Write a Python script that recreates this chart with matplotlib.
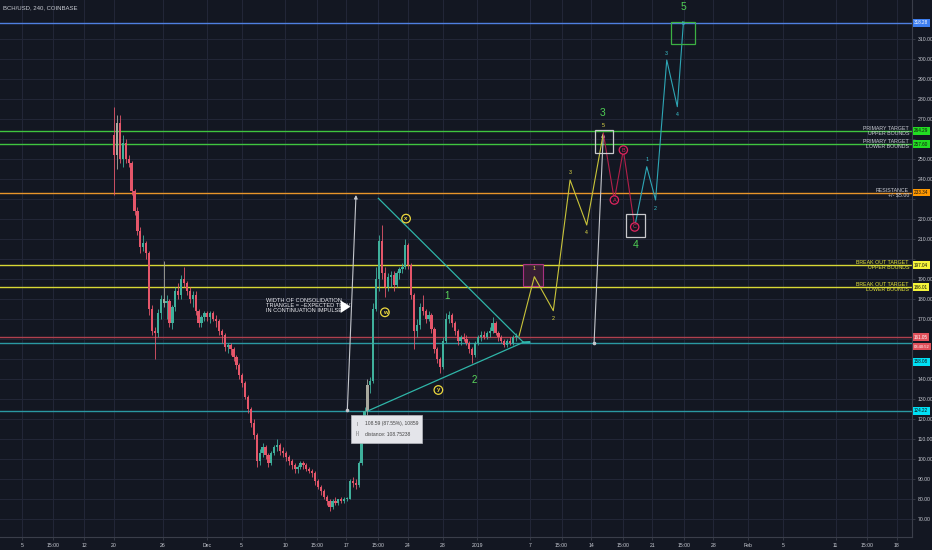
import matplotlib
matplotlib.use("Agg")
import matplotlib.pyplot as plt
from matplotlib.patches import Rectangle
import numpy as np

plt.rcParams['font.family'] = ['Liberation Sans Narrow', 'Liberation Sans', 'DejaVu Sans']

# ---------------- data ----------------
title = "BCH/USD, 240, COINBASE"
start_day = -10.6          # first 8h candle, days relative to Dec 1
bar_step = 1.0 / 3.0       # 8 hours
first_open = 262

closes = [252,268,250,258,250,248,234,224,214,206,208,203,175,164,163,173,180,178,179,168,
          176,184,182,190,188,184,180,182,174,168,171,173,171,173,170,169,164,162,156,157,
          155,151,147,142,138,131,125,118,112,99,103,106,102,98,103,106,107,104,103,101,
          99,97,95,96,98,97,95,94,93,89,86,84,81,79,76,79,78,80,79,80,
          80,89,88,87,98,110,124,137,139,175,190,209,193,186,191,192,187,193,195,196,
          207,197,182,164,167,176,174,170,172,165,155,150,146,159,170,172,168,164,159,161,
          160,158,155,152,158,161,162,161,163,164,168,163,161,159,157,159,158,161,161.05]
highs = [276,272,272,262,260,252,249,235,226,216,212,209,204,177,166,175,182,199,182,180,
         177,186,188,192,196,189,186,184,184,175,172,174,174,174,174,172,170,165,163,158,
         158,156,152,148,143,139,132,126,120,113,105,108,107,103,104,107,110,108,106,104,
         102,100,98,97,99,99,98,96,95,94,90,87,85,82,80,80,81,80,81,81,
         81,90,91,90,99,112,126,140,141,178,196,212,217,196,193,194,194,194,196,198,
         210,208,198,183,170,178,182,175,174,173,166,156,151,161,173,174,173,169,165,162,
         163,162,159,156,159,162,164,164,164,166,171,169,164,162,160,160,161,162,163]
lows = [232,245,248,246,248,246,232,222,212,203,204,200,172,162,150,161,170,176,170,166,
        165,174,180,180,186,182,178,176,172,166,166,169,169,168,169,166,162,158,154,153,
        152,149,145,140,136,130,123,116,110,96,97,101,100,96,97,102,104,102,101,99,
        97,95,93,93,95,95,94,93,91,87,85,82,80,77,74,75,77,77,78,78,
        79,80,86,85,86,97,109,122,133,138,174,184,190,181,184,186,184,186,190,193,
        195,195,180,155,161,165,172,168,169,163,153,148,143,145,158,168,166,162,157,157,
        159,157,153,148,151,157,159,160,160,161,163,162,159,158,156,156,157,157,159]

xtick_pos = [-21.1, -17.6, -14.05, -10.6, -5, 0, 4, 9, 12.625, 16, 19.625, 23, 27, 31, 37,
             40.625, 44, 47.625, 51, 54.625, 58, 62, 66, 72, 75.625, 79]
xtick_lab = ['5', '15:00', '12', '20', '26', 'Dec', '5', '10', '15:00', '17', '15:00', '24', '28',
             '2019', '7', '15:00', '14', '15:00', '21', '15:00', '28', 'Feb', '5', '11', '15:00', '18']
ytick_pos = list(range(70, 320, 10))

level_prices = [318.28, 264.29, 257.60, 233.34, 197.04, 186.01, 161.05, 158.08, 124.22]
level_names = ['', 'PRIMARY TARGET\nUPPER BOUNDS', 'PRIMARY TARGET\nLOWER BOUNDS',
               'RESISTANCE\n+/- $5.00', 'BREAK OUT TARGET\nUPPER BOUNDS',
               'BREAK OUT TARGET\nLOWER BOUNDS', '', '', '']
countdown = "03:40:52"

# triangle (days, prices)
tri_upper = ([19.65, 36.25], [230.5, 158.5])
tri_lower = ([18.5, 36.25], [124.3, 158.5])

# projected waves
wave_y_days = [35.76, 37.51, 39.68, 41.6, 43.51, 45.41]
wave_y_prices = [161.65, 191.3, 174.3, 239.65, 217.15, 263.0]
wave_y_labels = ['', '1', '2', '3', '4', '5']
wave_r_days = [45.41, 46.67, 47.7, 49.0]
wave_r_prices = [263.0, 229.65, 254.65, 216.15]
wave_r_labels = ['', 'A', 'B', 'C']
wave_c_days = [49.0, 50.38, 51.39, 52.67, 53.88, 54.57]
wave_c_prices = [216.15, 246.3, 229.65, 299.65, 276.3, 318.0]
wave_c_labels = ['', '1', '2', '3', '4', '5']

measure_1 = ([16.1, 17.09], [124.65, 232.15])
measure_2 = ([44.35, 45.41], [158.3, 263.0])

# ---------------- styles ----------------
BG = '#131722'
GRID = '#232738'
TXT = '#c9ccd4'
UP = '#3fb09c'
DOWN = '#e5566a'
level_line_col = ['#4f7fe0', '#3fc43f', '#3fc43f', '#e8952a', '#d8d835', '#d8d835',
                  '#b0404f', '#2a98a2', '#2a98a2']
level_box_col = ['#3d7ef0', '#22dd22', '#22dd22', '#ff9800', '#f5f53a', '#f5f53a',
                 '#e0505a', '#00e0f5', '#00e0f5']
level_box_txt = ['white', '#111', '#111', '#111', '#111', '#111', 'white', '#111', '#111']
level_name_col = [TXT, TXT, TXT, TXT, '#e6e63a', '#e6e63a', TXT, TXT, TXT]
label_y_shift = [0, 0, 0, 0, 0, 0, 0, -9.3, 0]

W, H = 932, 550
fig = plt.figure(figsize=(W / 100, H / 100), dpi=100, facecolor=BG)
ax = fig.add_axes([0, 13 / H, 912 / W, 537 / H], facecolor=BG)
ax.set_xlim(-23.67, 80.75)
ax.set_ylim(61.15, 329.65)

for s in ['top', 'left']:
    ax.spines[s].set_visible(False)
for s in ['right', 'bottom']:
    ax.spines[s].set_color('#3a3e4a')
    ax.spines[s].set_linewidth(0.8)

# hide axis labels that sit under a coloured price box
box_ys = [p + s for p, s in zip(level_prices, label_y_shift)] + [level_prices[6] - 4.65]
ax.yaxis.tick_right()
ax.set_yticks(ytick_pos)
ax.set_yticklabels([("" if min(abs(v - b) for b in box_ys) < 3.6 else f"{v:.2f}")
                    for v in ytick_pos])
ax.set_xticks(xtick_pos)
ax.set_xticklabels(xtick_lab)
ax.tick_params(axis='both', colors='#3a3e4a', labelcolor=TXT, labelsize=3.7, length=2, width=0.6, pad=2)
ax.grid(True, color=GRID, linewidth=0.7)
ax.set_axisbelow(True)

# title
ax.text(3 / 912, 1 - 8 / 537, title, transform=ax.transAxes, color=TXT, fontsize=4.3,
        ha='left', va='center')

# horizontal levels
ytr = ax.get_yaxis_transform()
for i, p in enumerate(level_prices):
    ax.axhline(p, color=level_line_col[i], lw=1.0, zorder=2)
    if level_names[i]:
        ax.text(909 / 912, p, level_names[i], transform=ytr,
                ha='right', va='center', fontsize=3.8, color=level_name_col[i],
                linespacing=0.95, zorder=6)
    ax.text(1.0 + 2.0 / 912, p + label_y_shift[i], f"{p:.2f}", transform=ytr,
            ha='left', va='center', fontsize=3.3, color=level_box_txt[i], zorder=10, clip_on=False,
            bbox=dict(boxstyle='square,pad=0.3', fc=level_box_col[i], ec='none'))
# countdown label under last price
ax.text(1.0 + 2.0 / 912, level_prices[6] - 4.65, countdown, transform=ytr,
        ha='left', va='center', fontsize=3.0, color='white', zorder=10, clip_on=False,
        bbox=dict(boxstyle='square,pad=0.3', fc='#e0505a', ec='none'))

# candles
n = len(closes)
xs = np.array([start_day + i * bar_step for i in range(n)])
opens = [first_open] + closes[:-1]
grey_bars = {1, 17, 87}
for i in range(n):
    o, c = opens[i], closes[i]
    col = UP if c >= o else DOWN
    if i in grey_bars:
        col = '#a8a89e'
    ax.vlines(xs[i], lows[i], highs[i], color=col, lw=0.6, zorder=3)
    ax.bar(xs[i], max(abs(c - o), 0.6), bottom=min(o, c), width=0.26, color=col,
           linewidth=0, zorder=3)

# triangle
ax.plot(*tri_upper, color='#2fb5a8', lw=0.9, zorder=4)
ax.plot(*tri_lower, color='#2fb5a8', lw=0.9, zorder=4)
ax.plot([36.25, 37.0, 36.25], [158.5, 158.6, 158.5], color='#2fb5a8', lw=0.9, zorder=4)

# measurement arrows
for m in (measure_1, measure_2):
    ax.annotate('', xy=(m[0][1], m[1][1]), xytext=(m[0][0], m[1][0]),
                arrowprops=dict(arrowstyle='-|>', color='#c4c6cc', lw=0.8, mutation_scale=5,
                                shrinkA=0, shrinkB=0), zorder=5)
    ax.plot(m[0][0], m[1][0], 'o', ms=1.6, color='#c4c6cc', zorder=5)

# tooltip
ax.add_patch(Rectangle((16.55, 108.0), 8.07, 14.15, fc='#e4e5ea', ec='#b8b9c0', lw=0.5, zorder=7))
ax.text(17.2, 117.65, 'I', fontsize=3.4, color='#666', va='center', zorder=8)
ax.text(17.0, 112.65, '|-|', fontsize=3.4, color='#666', va='center', zorder=8)
ax.text(18.1, 117.65, '108.59 (87.55%), 10859', fontsize=3.6, color='#444', va='center', zorder=8)
ax.text(18.1, 112.65, 'distance: 108.75238', fontsize=3.6, color='#444', va='center', zorder=8)

# note text
ax.text(6.79, 176.8, 'WIDTH OF CONSOLIDATION\nTRIANGLE = ~EXPECTED TRAV\nIN CONTINUATION IMPULSE',
        fontsize=4.1, color='#f0f0f4', ha='left', va='center', linespacing=0.95, zorder=6)
ax.annotate('', xy=(16.45, 176.3), xytext=(15.5, 176.3),
            arrowprops=dict(arrowstyle='simple,head_width=0.9,head_length=0.7,tail_width=0.35',
                            color='white', lw=0, shrinkA=0, shrinkB=0), zorder=7)

# corrective wave labels (circled)
for lab, d, p in [('x', 22.82, 220.35), ('w', 20.4, 173.5), ('y', 26.52, 134.65)]:
    ax.text(d, p, lab, fontsize=4.3, color='#ecd83e', ha='center', va='center', zorder=8,
            fontweight='bold',
            bbox=dict(boxstyle='circle,pad=0.3', fc=BG, ec='#ecd83e', lw=0.9))
for lab, d, p in [('1', 27.48, 181.65), ('2', 30.6, 139.65)]:
    ax.text(d, p, lab, fontsize=7, color='#5ad65c', ha='center', va='center', zorder=8)

# pink breakout box
ax.add_patch(Rectangle((36.25, 186.65), 2.29, 10.85, fc='#3a1f35', ec='#b8338a', lw=0.8, zorder=4, alpha=0.9))

# projected waves
ax.plot(wave_y_days, wave_y_prices, color='#c9c43a', lw=0.8, zorder=5)
for d, p, lab in zip(wave_y_days, wave_y_prices, wave_y_labels):
    if lab:
        off = 4.0 if lab in ('1', '3', '5') else -4.0
        ax.text(d, p + off, lab, fontsize=3.8, color='#e6e048', ha='center', va='center', zorder=8)

ax.plot(wave_r_days, wave_r_prices, color='#b3204a', lw=0.8, zorder=5)
for d, p, lab in zip(wave_r_days, wave_r_prices, wave_r_labels):
    if lab:
        ax.text(d, p, lab, fontsize=4.0, color='#e0245e', ha='center', va='center', zorder=8,
                bbox=dict(boxstyle='circle,pad=0.3', fc=BG, ec='#e0245e', lw=0.9))

ax.plot(wave_c_days, wave_c_prices, color='#2ea6b5', lw=0.8, zorder=5)
for d, p, lab in zip(wave_c_days, wave_c_prices, wave_c_labels):
    if lab:
        off = 3.5 if lab in ('1', '3') else (-4.0 if lab in ('2', '4') else 0.0)
        ax.text(d, p + off, lab, fontsize=3.8, color='#3cc4d0', ha='center', va='center', zorder=8)

# boxes around wave ends
ax.add_patch(Rectangle((44.4, 253.3), 2.15, 11.35, fc='none', ec='#c8c8cc', lw=0.9, zorder=6))
ax.add_patch(Rectangle((48.0, 211.0), 2.18, 11.5, fc='none', ec='#c8c8cc', lw=0.9, zorder=6))
ax.add_patch(Rectangle((53.13, 307.5), 2.78, 11.0, fc='none', ec='#3cb043', lw=0.9, zorder=6))

# big green degree labels
for lab, d, p in [('3', 45.34, 273.0), ('4', 49.15, 207.15), ('5', 54.57, 326.0)]:
    ax.text(d, p, lab, fontsize=7.5, color='#4fcf55', ha='center', va='center', zorder=8)

fig.savefig('out.png', dpi=100, facecolor=BG)
